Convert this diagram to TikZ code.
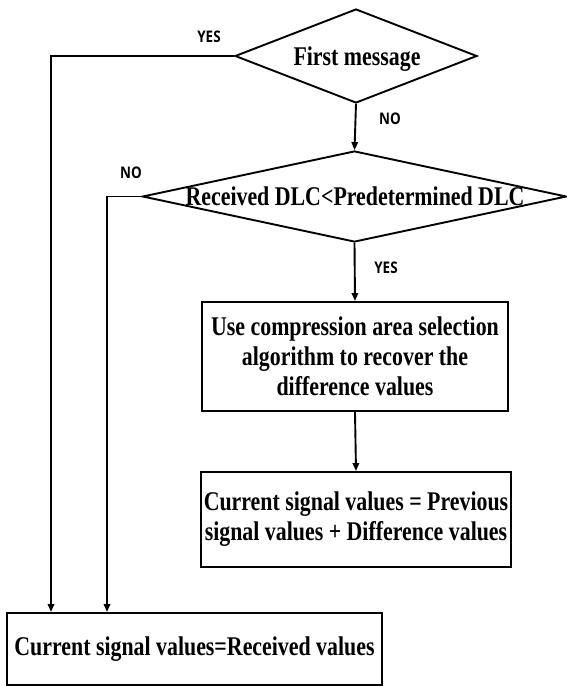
\documentclass[tikz,border=0pt]{standalone}
\usepackage{fontspec}
\setmainfont[FakeStretch=0.81]{Liberation Serif}
\newfontfamily\labelfont[FakeStretch=0.84]{Open Sans}
\usetikzlibrary{shapes.geometric,arrows.meta}

\begin{document}
\begin{tikzpicture}
[x=0.5pt,y=-0.5pt,
  linedecorate/.style={-,line width=0.95pt},%
  arrowdecorate/.style={-{Triangle[length=4pt,width=3.2pt]},line width=0.95pt},%
  boxdecorate/.style={shape=rectangle,draw,line width=0.95pt,inner sep=0pt,align=center,font=\bfseries\fontsize{13.5}{15}\selectfont},%
  diamonddecorate/.style={shape=diamond,draw,line width=0.95pt,inner sep=0pt},%
  textdecorate/.style={anchor=base,inner sep=0pt,font=\bfseries\fontsize{13.5}{15}\selectfont},%
  labeldecorate/.style={inner sep=0pt,font=\labelfont\bfseries\fontsize{8}{9}\selectfont}]
\useasboundingbox (0,0) rectangle (567,686);
%% decisions
\node (first) at (356,56) [diamonddecorate,minimum width=121pt,minimum height=47pt] {};
\node (firsttext) at (357,65) [textdecorate] {First message};
\node (dlc) at (354.5,196.5) [diamonddecorate,minimum width=212pt,minimum height=45.5pt] {};
\node (dlctext) at (355,205) [textdecorate] {Received DLC<Predetermined DLC};
%% process boxes
\node (recover) at (355,356.5) [boxdecorate,minimum width=153pt,minimum height=54.5pt]
  {Use compression area selection\\algorithm to recover the\\difference values};
\node (update) at (356,519.5) [boxdecorate,minimum width=155pt,minimum height=47.5pt]
  {Current signal values = Previous\\signal values + Difference values};
\node (direct) at (194.5,649) [boxdecorate,minimum width=187.5pt,minimum height=36pt]
  {Current signal values=Received values};
%% branch labels
\foreach \nodename/\x/\y/\txt in {yesfirst/209/37/YES, nofirst/390/119/NO, nodlc/131/173/NO, yesdlc/386/268/YES}
{
  \node (\nodename) at (\x,\y) [labeldecorate] {\txt};
}
%% edges or lines
\coordinate (yesturn) at (51,56);
\coordinate (noturn) at (107,196.5);
\draw[arrowdecorate] (first.west) -- (yesturn) -- (yesturn |- direct.north);
\draw[arrowdecorate] (dlc.west) -- (noturn) -- (noturn |- direct.north);
\path
\foreach \startnode/\endnode in {first/dlc, dlc/recover, recover/update}
{
  (\startnode.south) edge[arrowdecorate] (\endnode.north)
};
\end{tikzpicture}
\end{document}
